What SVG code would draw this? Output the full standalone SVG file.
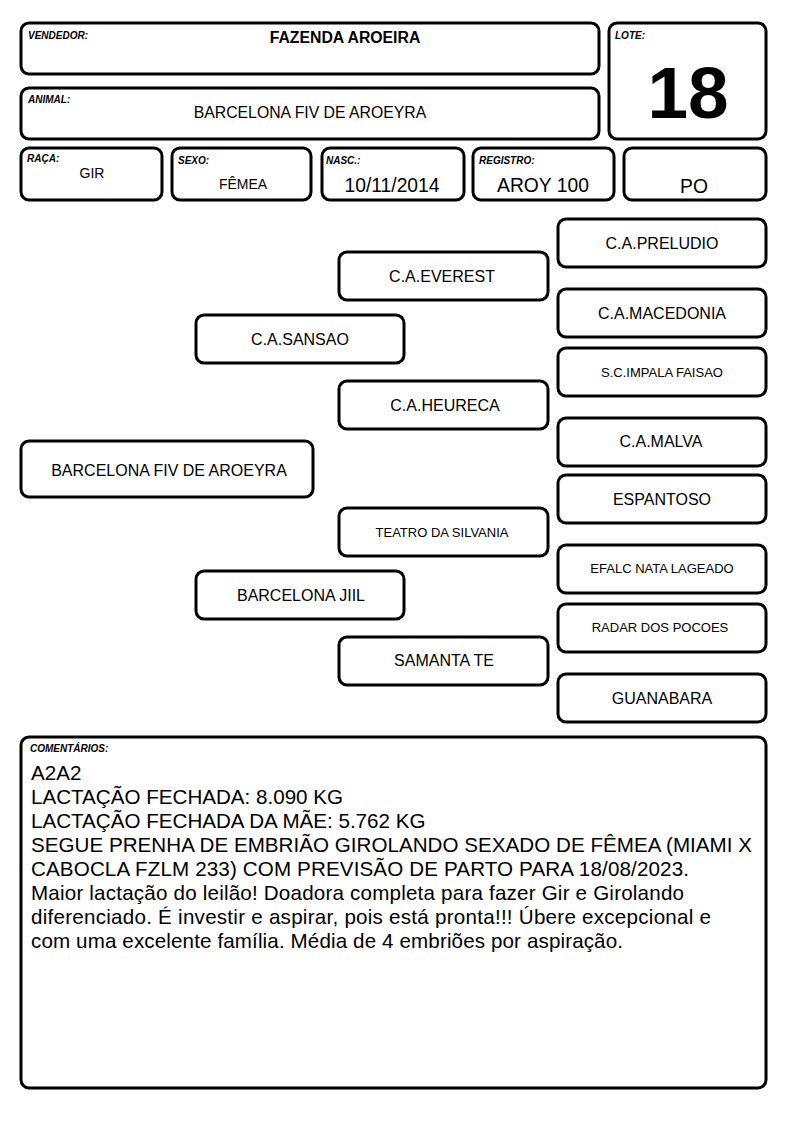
<svg xmlns="http://www.w3.org/2000/svg" width="794" height="1123" viewBox="0 0 794 1123">
<style>
.box{fill:#fff;stroke:#000;stroke-width:3;}
.lbl{font-family:"Liberation Sans",Arial,sans-serif;font-size:10px;font-weight:bold;font-style:italic;fill:#000;}
.t{font-family:"Liberation Sans",Arial,sans-serif;fill:#000;text-anchor:middle;}
.n{font-size:16px;}
.s{font-size:13px;}
.v{font-size:19.3px;}
.c{font-family:"Liberation Sans",Arial,sans-serif;font-size:20.6px;fill:#000;}
</style>
<rect width="794" height="1123" fill="#fff"/>
<g id="vendedor"><rect class="box" x="21" y="23" width="578" height="51" rx="8"/><text class="lbl" x="28" y="39">VENDEDOR:</text><text class="t" x="345" y="43" font-size="15.8" font-weight="bold">FAZENDA AROEIRA</text></g>
<g id="animal"><rect class="box" x="21" y="88" width="578" height="51" rx="8"/><text class="lbl" x="28" y="103">ANIMAL:</text><text class="t" x="310" y="118" font-size="15.8">BARCELONA FIV DE AROEYRA</text></g>
<g id="lote"><rect class="box" x="609" y="23" width="157" height="116" rx="8"/><text class="lbl" x="615" y="39">LOTE:</text><text class="t" x="688" y="118" font-size="73" font-weight="bold">18</text></g>
<g id="raca"><rect class="box" x="21" y="148" width="141" height="52" rx="8"/><text class="lbl" x="27" y="162">RAÇA:</text><text class="t" x="92" y="178" font-size="14">GIR</text></g>
<g id="sexo"><rect class="box" x="172" y="148" width="139" height="52" rx="8"/><text class="lbl" x="178" y="164">SEXO:</text><text class="t" x="243" y="189" font-size="14">FÊMEA</text></g>
<g id="nasc"><rect class="box" x="322" y="148" width="142" height="52" rx="8"/><text class="lbl" x="326" y="164">NASC.:</text><text class="t v" x="392" y="192">10/11/2014</text></g>
<g id="registro"><rect class="box" x="473" y="148" width="141" height="52" rx="8"/><text class="lbl" x="479" y="164">REGISTRO:</text><text class="t v" x="543" y="192">AROY 100</text></g>
<g id="po"><rect class="box" x="624" y="148" width="142" height="52" rx="8"/><text class="t v" x="694" y="193">PO</text></g>
<g id="connectors"></g>
<g id="preludio"><rect class="box" x="558" y="219" width="208" height="48" rx="8"/><text class="t n" x="662" y="248.5">C.A.PRELUDIO</text></g>
<g id="everest"><rect class="box" x="339" y="252" width="209" height="48" rx="8"/><text class="t n" x="442" y="281.5">C.A.EVEREST</text></g>
<g id="macedonia"><rect class="box" x="558" y="289" width="208" height="48" rx="8"/><text class="t n" x="662" y="318.5">C.A.MACEDONIA</text></g>
<g id="impala"><rect class="box" x="558" y="348" width="208" height="48" rx="8"/><text class="t s" x="662" y="376.5">S.C.IMPALA FAISAO</text></g>
<g id="sansao"><rect class="box" x="196" y="315" width="208" height="48" rx="8"/><text class="t n" x="300" y="344.5">C.A.SANSAO</text></g>
<g id="heureca"><rect class="box" x="339" y="381" width="209" height="48" rx="8"/><text class="t n" x="445" y="410.5">C.A.HEURECA</text></g>
<g id="malva"><rect class="box" x="558" y="418" width="208" height="48" rx="8"/><text class="t n" x="661" y="446.5">C.A.MALVA</text></g>
<g id="barcelona"><rect class="box" x="21" y="441" width="292" height="56" rx="8"/><text class="t n" x="169" y="475.5">BARCELONA FIV DE AROEYRA</text></g>
<g id="espantoso"><rect class="box" x="558" y="475" width="208" height="48" rx="8"/><text class="t n" x="662" y="504.5">ESPANTOSO</text></g>
<g id="teatro"><rect class="box" x="339" y="508" width="209" height="48" rx="8"/><text class="t s" x="442" y="536.5">TEATRO DA SILVANIA</text></g>
<g id="efalc"><rect class="box" x="558" y="545" width="208" height="48" rx="8"/><text class="t s" x="662" y="572.5">EFALC NATA LAGEADO</text></g>
<g id="jiil"><rect class="box" x="196" y="571" width="208" height="48" rx="8"/><text class="t n" x="301" y="600.5">BARCELONA JIIL</text></g>
<g id="radar"><rect class="box" x="558" y="604" width="208" height="48" rx="8"/><text class="t s" x="660" y="632">RADAR DOS POCOES</text></g>
<g id="samanta"><rect class="box" x="339" y="637" width="209" height="48" rx="8"/><text class="t n" x="444" y="665.5">SAMANTA TE</text></g>
<g id="guanabara"><rect class="box" x="558" y="674" width="208" height="48" rx="8"/><text class="t n" x="662" y="703.5">GUANABARA</text></g>
<g id="comentarios"><rect class="box" x="21" y="737" width="745" height="351" rx="8"/><text class="lbl" x="30" y="752">COMENTÁRIOS:</text>
<text class="c" x="31" y="780">A2A2</text>
<text class="c" x="31" y="804">LACTAÇÃO FECHADA: 8.090 KG</text>
<text class="c" x="31" y="828">LACTAÇÃO FECHADA DA MÃE: 5.762 KG</text>
<text class="c" x="31" y="852" textLength="721" lengthAdjust="spacing">SEGUE PRENHA DE EMBRIÃO GIROLANDO SEXADO DE FÊMEA (MIAMI X</text>
<text class="c" x="31" y="876" textLength="658" lengthAdjust="spacing">CABOCLA FZLM 233) COM PREVISÃO DE PARTO PARA 18/08/2023.</text>
<text class="c" x="31" y="900" textLength="653" lengthAdjust="spacing">Maior lactação do leilão! Doadora completa para fazer Gir e Girolando</text>
<text class="c" x="31" y="924" textLength="680" lengthAdjust="spacing">diferenciado. É investir e aspirar, pois está pronta!!! Úbere excepcional e</text>
<text class="c" x="31" y="948" textLength="592" lengthAdjust="spacing">com uma excelente família. Média de 4 embriões por aspiração.</text>
</g>
</svg>
